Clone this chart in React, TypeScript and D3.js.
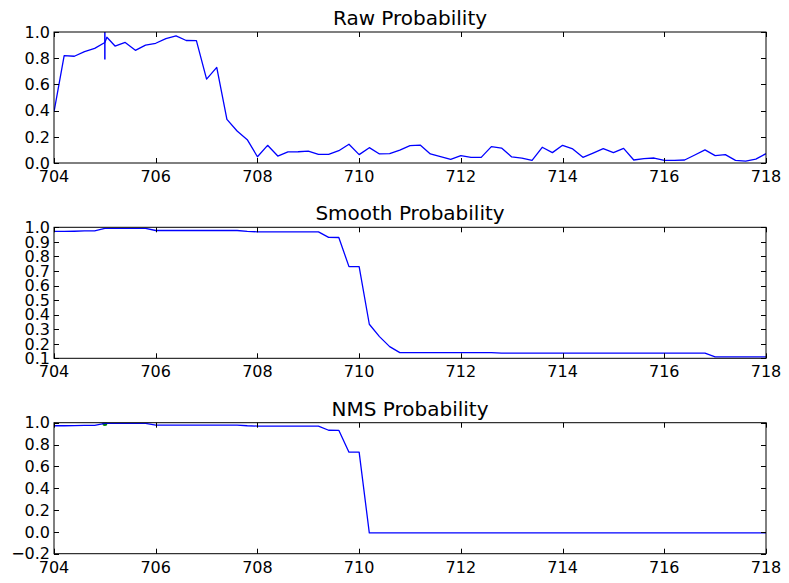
import * as React from 'react';
import * as d3 from 'd3';

// frames on the x axis (seconds), sampled every 0.2
const frames: number[] = d3.range(71).map((i) => +(704 + i * 0.2).toFixed(1));

// raw output has one extra sample right after 705
const rawFrames: number[] = [
  704.0, 704.2, 704.4, 704.6, 704.8, 705.0, 705.04, 705.2, 705.4, 705.6, 705.8,
  706.0, 706.2, 706.4, 706.6, 706.8, 707.0, 707.2, 707.4, 707.6, 707.8, 708.0,
  708.2, 708.4, 708.6, 708.8, 709.0, 709.2, 709.4, 709.6, 709.8, 710.0, 710.2,
  710.4, 710.6, 710.8, 711.0, 711.2, 711.4, 711.6, 711.8, 712.0, 712.2, 712.4,
  712.6, 712.8, 713.0, 713.2, 713.4, 713.6, 713.8, 714.0, 714.2, 714.4, 714.6,
  714.8, 715.0, 715.2, 715.4, 715.6, 715.8, 716.0, 716.2, 716.4, 716.6, 716.8,
  717.0, 717.2, 717.4, 717.6, 717.8, 718.0,
];
const rawProb: number[] = [
  0.39, 0.82, 0.815, 0.85, 0.875, 0.92, 0.96, 0.893, 0.92, 0.86, 0.9,
  0.914, 0.95, 0.97, 0.935, 0.934, 0.64, 0.73, 0.333, 0.244, 0.178, 0.048,
  0.135, 0.053, 0.085, 0.086, 0.09, 0.066, 0.066, 0.094, 0.143, 0.064, 0.117,
  0.069, 0.071, 0.099, 0.132, 0.137, 0.069, 0.048, 0.028, 0.056, 0.043, 0.043,
  0.125, 0.114, 0.046, 0.038, 0.02, 0.12, 0.079, 0.135, 0.107, 0.043, 0.076,
  0.109, 0.079, 0.112, 0.023, 0.033, 0.038, 0.02, 0.02, 0.023, 0.061, 0.1,
  0.056, 0.064, 0.02, 0.015, 0.03, 0.071,
];

const smoothProb: number[] = [
  0.972, 0.972, 0.973, 0.975, 0.976, 0.993, 0.993, 0.993, 0.993, 0.993,
  0.978, 0.978, 0.978, 0.978, 0.978, 0.978, 0.978, 0.978, 0.978, 0.972,
  0.969, 0.969, 0.969, 0.969, 0.969, 0.969, 0.969, 0.931, 0.93, 0.73,
  0.73, 0.334, 0.249, 0.18, 0.139, 0.139, 0.139, 0.139, 0.139, 0.139,
  0.139, 0.139, 0.139, 0.139, 0.135, 0.135, 0.135, 0.135, 0.135, 0.135,
  0.135, 0.135, 0.135, 0.135, 0.135, 0.135, 0.135, 0.135, 0.135, 0.135,
  0.135, 0.135, 0.135, 0.135, 0.135, 0.11, 0.11, 0.11, 0.11, 0.11, 0.11,
];

const nmsProb: number[] = [
  0.972, 0.972, 0.973, 0.975, 0.976, 0.993, 0.993, 0.993, 0.993, 0.993,
  0.978, 0.978, 0.978, 0.978, 0.978, 0.978, 0.978, 0.978, 0.978, 0.972,
  0.969, 0.969, 0.969, 0.969, 0.969, 0.969, 0.969, 0.931, 0.93, 0.73,
  0.73, -0.01, -0.01, -0.01, -0.01, -0.01, -0.01, -0.01, -0.01, -0.01,
  -0.01, -0.01, -0.01, -0.01, -0.01, -0.01, -0.01, -0.01, -0.01, -0.01,
  -0.01, -0.01, -0.01, -0.01, -0.01, -0.01, -0.01, -0.01, -0.01, -0.01,
  -0.01, -0.01, -0.01, -0.01, -0.01, -0.01, -0.01, -0.01, -0.01, -0.01, -0.01,
];

// marker at the detected onset
const onsetFrame = [705.0];
const onsetRawSpan = [0.79, 1.0];
const nmsPeakProb = [0.993];

const xTicks = [704, 706, 708, 710, 712, 714, 716, 718];
const rawTicks = [0.0, 0.2, 0.4, 0.6, 0.8, 1.0];
const smoothTicks = [0.1, 0.2, 0.3, 0.4, 0.5, 0.6, 0.7, 0.8, 0.9, 1.0];
const nmsTicks = [-0.2, 0.0, 0.2, 0.4, 0.6, 0.8, 1.0];

const titles = ['Raw Probability', 'Smooth Probability', 'NMS Probability'];

const W = 789;
const H = 583;
const LEFT = 54;
const RIGHT = 766;
const PANEL_H = 131;
const TOPS = [32, 227.3, 422.7];
const FONT = 'DejaVu Sans, sans-serif';

export default function App() {
  const ref = React.useRef<SVGSVGElement>(null);

  React.useEffect(() => {
    document.body.style.margin = '0';
    const svg = d3.select(ref.current);
    svg.selectAll('*').remove();
    svg.append('rect').attr('width', W).attr('height', H).attr('fill', '#fff');

    const x = d3.scaleLinear().domain([704, 718]).range([LEFT, RIGHT]);

    const panels = [
      { xs: rawFrames, ys: rawProb, domain: [0, 1], ticks: rawTicks },
      { xs: frames, ys: smoothProb, domain: [0.1, 1], ticks: smoothTicks },
      { xs: frames, ys: nmsProb, domain: [-0.2, 1], ticks: nmsTicks },
    ];

    panels.forEach((p, i) => {
      const top = TOPS[i];
      const bottom = top + PANEL_H;
      const y = d3.scaleLinear().domain(p.domain).range([bottom, top]);
      const g = svg.append('g');

      const clipId = 'clip' + i;
      svg
        .append('clipPath')
        .attr('id', clipId)
        .append('rect')
        .attr('x', LEFT)
        .attr('y', top)
        .attr('width', RIGHT - LEFT)
        .attr('height', PANEL_H);

      const plot = g.append('g').attr('clip-path', `url(#${clipId})`);

      if (i === 2) {
        plot
          .selectAll('circle.peak')
          .data(onsetFrame)
          .enter()
          .append('circle')
          .attr('cx', (d) => x(d))
          .attr('cy', (_d, k) => y(nmsPeakProb[k]))
          .attr('r', 2.5)
          .attr('fill', '#008000');
      }

      const line = d3
        .line<number>()
        .x((_d, k) => x(p.xs[k]))
        .y((d) => y(d));

      plot
        .append('path')
        .datum(p.ys)
        .attr('d', line)
        .attr('fill', 'none')
        .attr('stroke', '#0000ff')
        .attr('stroke-width', 1.3)
        .attr('stroke-linejoin', 'round');

      if (i === 0) {
        g.selectAll('line.onset')
          .data(onsetFrame)
          .enter()
          .append('line')
          .attr('x1', (d) => x(d))
          .attr('x2', (d) => x(d))
          .attr('y1', y(onsetRawSpan[0]))
          .attr('y2', y(onsetRawSpan[1]))
          .attr('stroke', '#0000ff')
          .attr('stroke-width', 1.5);
      }

      // frame
      g.append('rect')
        .attr('x', LEFT)
        .attr('y', top)
        .attr('width', RIGHT - LEFT)
        .attr('height', PANEL_H)
        .attr('fill', 'none')
        .attr('stroke', '#000')
        .attr('stroke-width', 1);

      // x ticks, inside on top and bottom
      xTicks.forEach((t) => {
        const xx = Math.round(x(t)) + 0.5;
        g.append('line').attr('x1', xx).attr('x2', xx).attr('y1', bottom).attr('y2', bottom - 5).attr('stroke', '#000');
        g.append('line').attr('x1', xx).attr('x2', xx).attr('y1', top).attr('y2', top + 5).attr('stroke', '#000');
        g.append('text')
          .attr('x', x(t))
          .attr('y', bottom + 19)
          .attr('text-anchor', 'middle')
          .attr('font-family', FONT)
          .attr('font-size', 16)
          .attr('fill', '#000')
          .text(String(t));
      });

      // y ticks, inside on left and right
      p.ticks.forEach((t) => {
        const yy = Math.round(y(t)) + 0.5;
        g.append('line').attr('x1', LEFT).attr('x2', LEFT + 5).attr('y1', yy).attr('y2', yy).attr('stroke', '#000');
        g.append('line').attr('x1', RIGHT).attr('x2', RIGHT - 5).attr('y1', yy).attr('y2', yy).attr('stroke', '#000');
        g.append('text')
          .attr('x', LEFT - 4)
          .attr('y', y(t))
          .attr('dy', '0.36em')
          .attr('text-anchor', 'end')
          .attr('font-family', FONT)
          .attr('font-size', 16)
          .attr('fill', '#000')
          .text(t.toFixed(1).replace('-', '\u2212'));
      });

      g.append('text')
        .attr('x', (LEFT + RIGHT) / 2)
        .attr('y', top - 7)
        .attr('text-anchor', 'middle')
        .attr('font-family', FONT)
        .attr('font-size', 20)
        .attr('fill', '#000')
        .text(titles[i]);
    });
  }, []);

  return <svg ref={ref} width={W} height={H} style={{ display: 'block' }} />;
}
